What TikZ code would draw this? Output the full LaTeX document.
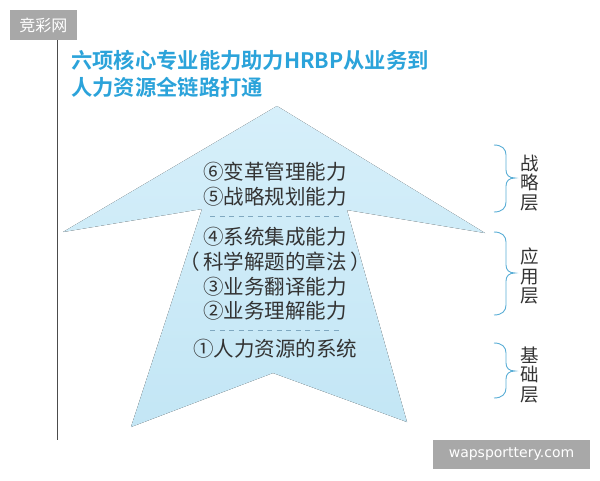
\documentclass[tikz,border=0pt]{standalone}
\usepackage{fontspec}
\newfontfamily\cjk{Noto Sans CJK SC}[BoldFont={Noto Sans CJK SC Bold}]
\newfontfamily\wmfont{DejaVu Sans}
\definecolor{titleblue}{HTML}{2BA3DA}
\definecolor{arrowtop}{HTML}{D6EFFA}
\definecolor{arrowbot}{HTML}{C3E6F5}
\definecolor{bodytext}{HTML}{333333}
\definecolor{bracecol}{HTML}{5AAED6}
\definecolor{dashcol}{HTML}{7FA8C0}
\definecolor{wmgray}{HTML}{A8A8A8}
\newcommand\layerbrace[3]{%
  \draw[bracecol, line width=0.9pt]
    (494,#1) .. controls (502,#1) and (506,{#1+4}) .. (506,{#1+10})
    -- (506,{#3-8}) .. controls (506,{#3-3}) and (509,#3) .. (515,#3)
    .. controls (509,#3) and (506,{#3+3}) .. (506,{#3+8})
    -- (506,{#2-10}) .. controls (506,{#2-4}) and (502,#2) .. (494,#2);}
\tikzset{
  titletext/.style={anchor=west, inner sep=0pt, text=titleblue, font=\cjk\bfseries\fontsize{21.3}{24}\selectfont},
  skill/.style={inner sep=0pt, text=bodytext, font=\cjk\fontsize{20.5}{24}\selectfont},
  layer/.style={inner sep=0pt, align=center, text=bodytext, font=\cjk\fontsize{18.5}{19.5}\selectfont},
  sep/.style={dashcol, line width=0.8pt, dash pattern=on 5pt off 4.5pt},
  watermark/.style={fill=wmgray, text=white, inner sep=0pt},
}
\begin{document}
\begin{tikzpicture}[x=1pt, y=-1pt]
\useasboundingbox (0,0) rectangle (600,480);
\fill[white] (0,0) rectangle (600,480);
% left rule
\coordinate (ruletop) at (57,40);
\coordinate (rulebot) at (57,440);
\draw[black!70, line width=1pt] (ruletop) -- (rulebot);
% title
\node[titletext] (t1) at (71,60) {六项核心专业能力助力HRBP从业务到};
\node[titletext] (t2) at (71,87) {人力资源全链路打通};
% arrow
\fill[top color=arrowtop, bottom color=arrowbot]
  (277,106) -- (485,233) -- (347,210) -- (407,422) -- (273,373)
  -- (131,427) -- (202,209) -- (63,232) -- cycle;
% skills
\node[skill] (s6) at (275,172) {⑥变革管理能力};
\node[skill] (s5) at (275,197) {⑤战略规划能力};
\node[skill] (s4) at (275,237) {④系统集成能力};
\node[skill] (s4b) at (275,262) {（\,科学解题的章法\,）};
\node[skill] (s3) at (275,287) {③业务翻译能力};
\node[skill] (s2) at (275,311) {②业务理解能力};
\node[skill] (s1) at (275,349) {①人力资源的系统};
\coordinate (d1a) at (210,216); \coordinate (d1b) at (339,216);
\coordinate (d2a) at (210,330); \coordinate (d2b) at (339,330);
\draw[sep] (d1a) -- (d1b);
\draw[sep] (d2a) -- (d2b);
% braces
\layerbrace{145}{212}{178}
\layerbrace{232}{315}{273}
\layerbrace{343}{398}{371}
\node[layer] (l1) at (530,183) {战\\略\\层};
\node[layer] (l2) at (530,276) {应\\用\\层};
\node[layer] (l3) at (530,375) {基\\础\\层};
% watermarks
\node[watermark, minimum width=67pt, minimum height=30pt, font=\cjk\fontsize{16}{18}\selectfont] (wm1) at (43.5,25) {竞彩网};
\node[watermark, minimum width=157pt, minimum height=29pt, font=\wmfont\fontsize{14}{17}\selectfont] (wm2) at (511.5,454.5) {wapsporttery.com};
\end{tikzpicture}
\end{document}
